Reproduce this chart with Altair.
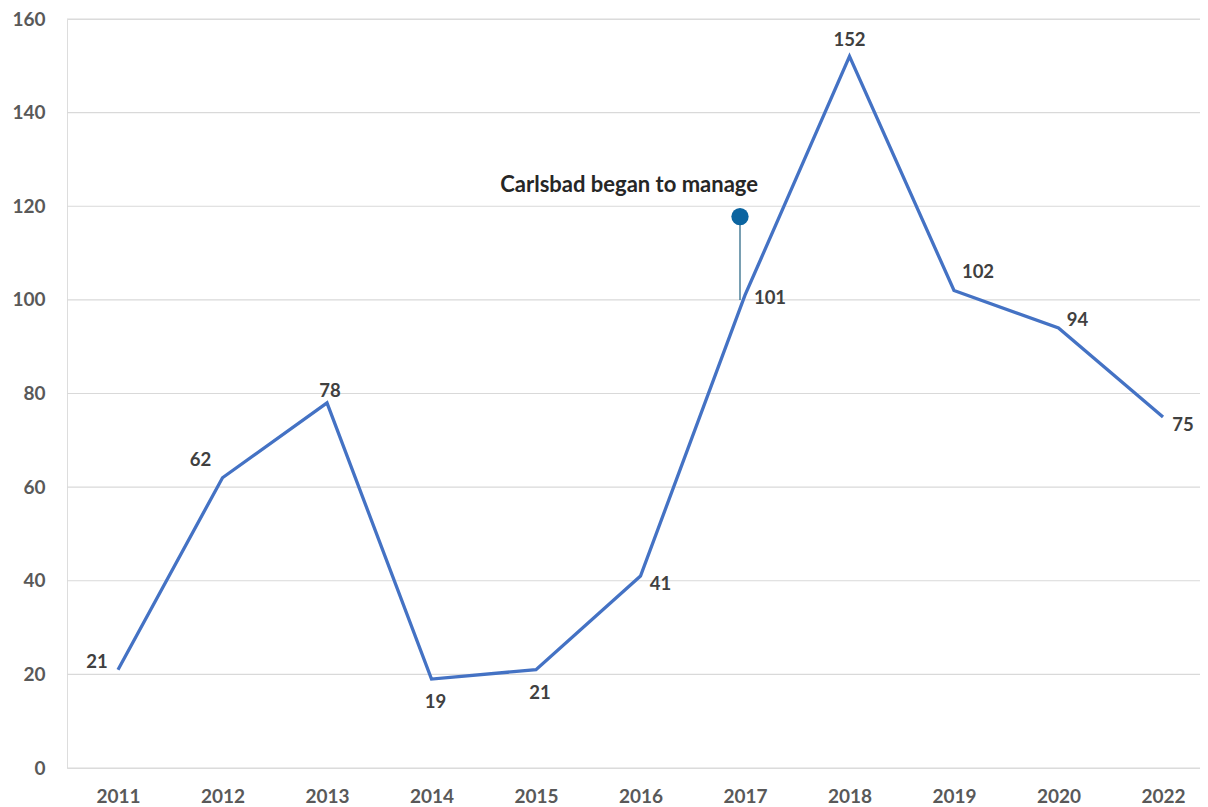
import altair as alt
import pandas as pd

years = ["2011", "2012", "2013", "2014", "2015", "2016", "2017", "2018", "2019", "2020", "2022"]
counts = [21, 62, 78, 19, 21, 41, 101, 152, 102, 94, 75]
label_pos = ["left", "upleft", "above", "below", "below", "downright", "right", "top", "upright", "nearright", "downright"]
y_ticks = [0, 20, 40, 60, 80, 100, 120, 140, 160]

annot_year = ["2017"]
annot_text = ["Carlsbad began to manage"]
annot_base = [100]
annot_top = [117.8]
annot_text_y = [124.6]

offsets = {
    "left": (-21, -8),
    "upleft": (-22, -18),
    "above": (3, -12),
    "top": (0, -16),
    "below": (4, 23),
    "downright": (20, 8),
    "right": (25, 3),
    "upright": (24, -19),
    "nearright": (19, -8),
}

df = pd.DataFrame({"year": years, "count": counts, "pos": label_pos})
ann = pd.DataFrame({"year": annot_year, "text": annot_text, "base": annot_base,
                    "top": annot_top, "ty": annot_text_y})
grid = pd.DataFrame({"v": y_ticks})

FONT = "Lato"
W, H = 1133, 749
xscale = alt.Scale(type="point", padding=0, range=[51, 1096])
yscale = alt.Scale(domain=[0, 160], nice=False)

grid_layer = alt.Chart(grid).mark_rule(color="#D9D9D9", strokeWidth=1.2).encode(
    y=alt.Y("v:Q", scale=yscale, title=None,
            axis=alt.Axis(values=y_ticks, labelFont=FONT, labelFontSize=19,
                          labelFontWeight="bold", labelColor="#595959", ticks=False,
                          domain=False, grid=False, labelPadding=22)),
    x=alt.value(0), x2=alt.value(W))

x = alt.X("year:N", sort=years, title=None, scale=xscale,
          axis=alt.Axis(labelAngle=0, labelFont=FONT, labelFontSize=19, labelFontWeight="bold",
                        labelColor="#595959", ticks=False, domain=False, grid=False, labelPadding=19))

line = alt.Chart(df).mark_line(color="#4472C4", strokeWidth=3.3).encode(
    x=x, y=alt.Y("count:Q", scale=yscale))

xs = alt.X("year:N", sort=years)
layers = [grid_layer, line]
for pos, (dx, dy) in offsets.items():
    sub = df[df["pos"] == pos]
    if len(sub) == 0:
        continue
    layers.append(
        alt.Chart(sub).mark_text(font=FONT, fontSize=18.5, fontWeight="bold", color="#404040",
                                 dx=dx, dy=dy).encode(x=xs, y="count:Q", text="count:Q")
    )

pin = alt.Chart(ann).mark_rule(color="#1F5F7F", strokeWidth=1.2).encode(
    x=xs, y=alt.Y("base:Q"), y2="top:Q", xOffset=alt.value(-5))
dot = alt.Chart(ann).mark_circle(color="#0B64A0", opacity=1, size=300).encode(
    x=xs, y=alt.Y("top:Q"), xOffset=alt.value(-5))
txt = alt.Chart(ann).mark_text(font=FONT, fontSize=22, fontWeight="bold", color="#262626",
                               align="right", dx=13).encode(x=xs, y=alt.Y("ty:Q"), text="text:N")

layers += [pin, dot, txt]

chart = alt.layer(*layers).properties(
    width=W, height=H,
    autosize=alt.AutoSizeParams(type="none"),
    padding={"left": 59, "top": 11, "right": 0, "bottom": 37},
).configure_view(stroke=None).configure(background="white")

chart.save("out.html", embed_options={"renderer": "svg", "actions": False})
